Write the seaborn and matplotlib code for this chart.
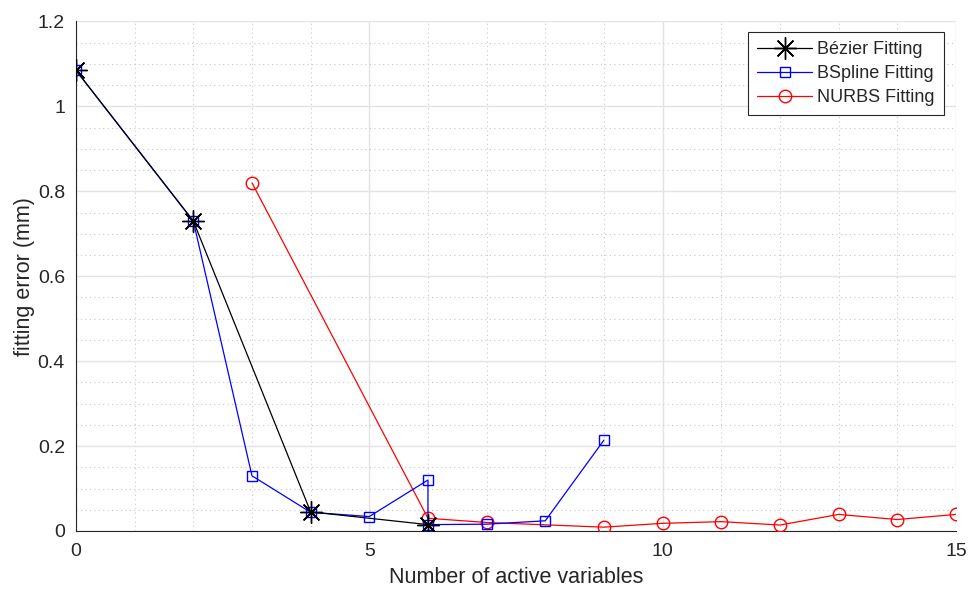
import pandas as pd
import seaborn as sns
import matplotlib.pyplot as plt
from matplotlib.ticker import MultipleLocator, FormatStrFormatter

bezier_x = [0, 2, 4, 6]
bezier_y = [1.085, 0.73, 0.045, 0.015]

bspline_x = [0, 2, 3, 4, 5, 6, 6, 7, 8, 9]
bspline_y = [1.085, 0.73, 0.13, 0.044, 0.034, 0.12, 0.015, 0.016, 0.024, 0.214]

nurbs_x = [3, 6, 7, 9, 10, 11, 12, 13, 14, 15]
nurbs_y = [0.82, 0.030, 0.020, 0.009, 0.018, 0.022, 0.014, 0.039, 0.027, 0.039]

sns.set_style('white')
plt.rcParams['font.family'] = ['Liberation Sans', 'DejaVu Sans']

fig = plt.figure(figsize=(9.68, 5.89), dpi=100)
ax = fig.add_axes([0.0785, 0.0985, 0.909, 0.865])

bz = pd.DataFrame({'x': bezier_x, 'y': bezier_y})
bs = pd.DataFrame({'x': bspline_x, 'y': bspline_y})
nu = pd.DataFrame({'x': nurbs_x, 'y': nurbs_y})

sns.lineplot(data=nu, x='x', y='y', ax=ax, sort=False, estimator=None,
             color='#ff0000', lw=0.9, marker='o', markersize=9,
             markerfacecolor='none', markeredgecolor='#ff0000', markeredgewidth=1,
             label='NURBS Fitting', zorder=3)
sns.lineplot(data=bs, x='x', y='y', ax=ax, sort=False, estimator=None,
             color='#0000ff', lw=0.9, marker='s', markersize=7.5,
             markerfacecolor='none', markeredgecolor='#0000ff', markeredgewidth=1,
             label='BSpline Fitting', zorder=4)
sns.lineplot(data=bz, x='x', y='y', ax=ax, sort=False, estimator=None,
             color='black', lw=0.9, marker=(8, 2, 0), markersize=16,
             markeredgecolor='black', markeredgewidth=1,
             label='Bézier Fitting', zorder=5)

ax.set_xlim(0, 15)
ax.set_ylim(0, 1.2)
ax.xaxis.set_major_locator(MultipleLocator(5))
ax.xaxis.set_minor_locator(MultipleLocator(1))
ax.yaxis.set_major_locator(MultipleLocator(0.2))
ax.yaxis.set_minor_locator(MultipleLocator(0.05))
ax.yaxis.set_major_formatter(FormatStrFormatter('%g'))

ax.grid(which='major', color='#e3e3e3', lw=1, linestyle='-')
ax.grid(which='minor', color='#c8c8c8', lw=0.8, linestyle=(0, (1, 3)))
ax.set_axisbelow(True)

for s in ['top', 'right']:
    ax.spines[s].set_visible(False)
for s in ['left', 'bottom']:
    ax.spines[s].set_color('#262626')
    ax.spines[s].set_linewidth(0.8)

ax.tick_params(which='major', direction='in', length=5, width=0.8,
               color='#262626', labelsize=14, labelcolor='#262626')
ax.tick_params(axis='x', which='major', pad=9)
ax.tick_params(axis='y', which='major', pad=8)
ax.tick_params(which='minor', length=0)

ax.set_xlabel('Number of active variables', fontsize=15.5, color='#262626', labelpad=5)
ax.set_ylabel('fitting error (mm)', fontsize=15.5, color='#262626', labelpad=2)

handles, labels = ax.get_legend_handles_labels()
leg = ax.legend(handles[::-1], labels[::-1], loc='upper right',
                bbox_to_anchor=(0.986, 0.979), borderaxespad=0, fontsize=13,
                frameon=True, fancybox=False, edgecolor='#262626', framealpha=1,
                handlelength=3.0, handletextpad=0.3, borderpad=0.5,
                labelspacing=0.38)
leg.get_frame().set_linewidth(0.8)

fig.savefig('out.png', dpi=100)
